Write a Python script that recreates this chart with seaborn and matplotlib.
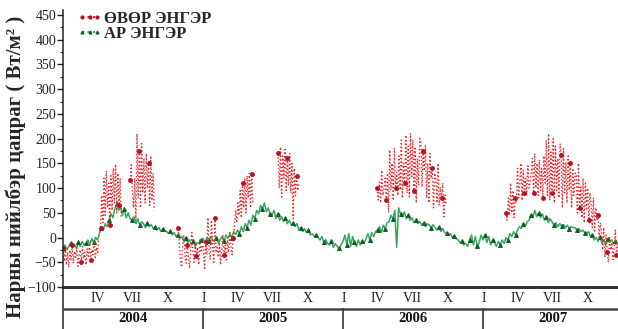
import numpy as np
import pandas as pd
import matplotlib
matplotlib.use("Agg")
import matplotlib.pyplot as plt
import matplotlib.dates as mdates
from matplotlib.lines import Line2D
from matplotlib.ticker import MultipleLocator
import seaborn as sns

# ---------------- data ----------------
series_names = ["ӨВӨР ЭНГЭР", "АР ЭНГЭР"]
years = ["2004", "2005", "2006", "2007"]
month_labels = ["IV", "VII", "X", "I"]

# north slope (АР ЭНГЭР), 5-day values from 2004-01-01
green_2004 = [-22, -15, -25, -18, -12, -20, -14, -22, -10, -18, -8, -15,
              -12, -5, -15, -2, -10, 0, -5, 8, 20, 15, 28, 22,
              35, 48, 40, 58, 68, 55, 62, 45, 58, 40, 50, 38,
              35, 42, 28, 38, 25, 32, 28, 20, 30, 22, 26, 18,
              22, 15, 20, 12, 18, 14, 12, 8, 14, 5, 10, 2,
              5, -2, 2, -8, 0, -10, -5, -15, -8, -18, -10, -12, -5]
green_2005 = [-2, -10, 0, -8, 2, -5, -8, 0, -12, -4, 2, -6,
              5, -2, 8, 0, 12, 6, 15, 8, 22, 12, 28, 20,
              35, 25, 45, 38, 55, 48, 65, 58, 70, 52, 60, 48,
              45, 55, 38, 48, 35, 42, 32, 40, 28, 35, 25, 30,
              22, 28, 15, 20, 12, 18, 10, 15, 5, 8, 2, 6,
              0, -5, 2, -10, -4, -12, -15, -8, -20, -12, -18, -22, -15]
green_2006 = [-8, 5, -15, 8, -18, 2, -10, -18, -5, -15, -8, -12,
              -2, 8, -5, 10, 2, 12, 15, 22, 10, 25, 18, 30,
              32, 45, 38, 55, -20, 60, 48, 42, 52, 38, 45, 35,
              40, 30, 35, 28, 32, 25, 30, 22, 28, 25, 20, 26,
              20, 15, 22, 12, 18, 10, 10, 5, 8, 0, 4, -2,
              -5, -10, -8, -15, -12, -18, -5, 5, -15, 2, -18, -10, 5]
green_2007 = [-5, 5, -10, 2, -15, -5, -10, -18, -8, -15, -5, -12,
              0, -5, 8, 2, 12, 5, 15, 22, 18, 28, 22, 32,
              35, 45, 40, 55, 42, 50, 40, 48, 35, 42, 30, 38,
              32, 25, 30, 22, 28, 24, 26, 20, 25, 18, 22, 20,
              20, 15, 18, 12, 15, 10, 8, 12, 2, 6, -5, 0,
              -8, 2, -12, -5, -15, -2, -10, -5, -12, -8]
green_values = green_2004 + green_2005 + green_2006 + green_2007
green_start = "2004-01-01"

# south slope (ӨВӨР ЭНГЭР), 3-day values in measured periods
red_starts = ["2004-01-01", "2004-04-08", "2004-06-24", "2004-10-27",
              "2005-07-15", "2006-03-30", "2007-03-01"]
red_seg1 = [-22, -48, -18, -55, -30, -60, -25, -45, -15, -52, -28, -40, -20, -58,
            -35, -25, -50, -18, -42, -30, -55, -22, -38, -12, -45, -25, -35, -8,
            -40, -20, -30, -5]
red_seg2 = [20, 85, 30, 120, 45, 135, 60, 110, 25, 125, 55, 140, 70, 148, 50, 130,
            65, 120, 40]
red_seg3 = [116, 147, 95, 60, 120, 35, 210, 80, 175, 60, 190, 90, 160, 70, 170, 100,
            150, 65, 165, 75, 130, 55]
red_seg4 = [19, -10, -45, -60, -20, 5, -35, -52, -15, -40, -62, -25, 10, -30, -50,
            -10, -38, -20, -55, -5, -30, -15,
            -20, -62, -10, -35, 40, -25, -45, 35, -15, -50, 40, -30, -20, -40, -10,
            -55, -25, 5, -35, -15, -45, -5, -30, 10, -20, -35, 0,
            20, 55, 30, 70, 45, 95, 40, 110, 60, 120, 50, 125, 80, 130, 60, 128, 70]
red_seg5 = [170, 100, 183, 82, 165, 120, 178, 95, 160, 105, 170, 90, 150, 38, 140,
            85, 125, 95, 110]
red_seg6 = [100, 76, 112, 70, 136, 85, 100, 120, 75, 130, 50, 177,
            96, 150, 75, 181, 100, 132, 85, 165, 96, 197, 80, 150, 110,
            207, 90, 185, 82, 211, 120, 197, 95, 180, 70, 160, 105, 200,
            197, 102, 175, 135, 185, 80, 150, 70, 170, 120, 140, 60, 130,
            120, 70, 150, 65, 102, 80, 110, 42, 86, 64]
red_seg7 = [50, 35, 80, 45, 110, 50, 95, 40, 80,
            70, 140, 80, 112, 150, 75, 136, 90, 120, 85, 145, 100, 112,
            132, 160, 90, 170, 100, 150, 85, 157, 95, 140, 80, 165, 110,
            197, 85, 210, 75, 173, 90, 200, 70, 185, 95, 160, 80, 190,
            167, 60, 180, 90, 152, 70, 165, 96, 150, 60, 140, 85, 130,
            130, 50, 150, 60, 102, 40, 120, 30, 110, 55, 100, 35, 90,
            66, 20, 80, 10, 60, 35, 45, 0, 30,
            10, -25, 20, -40, 5, -30, -50, 0, -25, -10, -45, -20, 15, -35, -10, -25]
red_segments = [red_seg1, red_seg2, red_seg3, red_seg4, red_seg5, red_seg6, red_seg7]

# ---------------- style ----------------
sns.set_theme(style="ticks")
plt.rcParams["font.family"] = ["Liberation Serif", "DejaVu Serif"]

W, H = 618, 329
fig = plt.figure(figsize=(W / 100, H / 100), dpi=100)
x0, x1 = 63, 618
y_bot, y_top = 287, 10
ax = fig.add_axes([x0 / W, 1 - y_bot / H, (x1 - x0) / W, (y_bot - y_top) / H])

red_col = "#e8262b"
red_mark = "#b8101e"
green_col = "#35a85a"
green_mark = "#145a2a"

gdf = pd.DataFrame({"date": pd.date_range(green_start, periods=len(green_values), freq="5D"),
                    "val": green_values})
sns.lineplot(data=gdf, x="date", y="val", ax=ax, color=green_col, linewidth=1.1,
             marker="^", markersize=2.8, markevery=4, markerfacecolor=green_mark,
             markeredgecolor=green_mark, estimator=None, sort=False, legend=False)

for start, seg in zip(red_starts, red_segments):
    rdf = pd.DataFrame({"date": pd.date_range(start, periods=len(seg), freq="3D"), "val": seg})
    sns.lineplot(data=rdf, x="date", y="val", ax=ax, color=red_col, linewidth=1.0,
                 linestyle=":", marker="o", markersize=2.7, markevery=8,
                 markerfacecolor=red_mark, markeredgecolor=red_mark,
                 estimator=None, sort=False, legend=False)

xmin = pd.Timestamp("2004-01-01")
xmax = pd.Timestamp("2007-12-18")
ax.set_xlim(xmin, xmax)
ax.set_ylim(-100, 460)
ax.yaxis.set_major_locator(MultipleLocator(50))
ax.yaxis.set_minor_locator(MultipleLocator(25))
ax.tick_params(axis="y", which="major", direction="out", length=4, width=1,
               labelsize=10, pad=1, colors="#222222")
ax.tick_params(axis="y", which="minor", direction="out", length=2, width=0.8)
ax.set_xticks([])
ax.set_xlabel("")
ax.set_ylabel("")
for s in ["top", "right"]:
    ax.spines[s].set_visible(False)
ax.spines["bottom"].set_linewidth(2.2)
ax.spines["bottom"].set_color("#333333")
ax.spines["left"].set_linewidth(1.1)
ax.spines["left"].set_color("#222222")

# legend
handles = [Line2D([], [], color=red_col, linestyle=":", marker="o", markersize=2,
                  markerfacecolor=red_mark, markeredgecolor=red_mark),
           Line2D([], [], color=green_col, linestyle=":", marker="^", markersize=2,
                  markerfacecolor=green_mark, markeredgecolor=green_mark)]
leg = ax.legend(handles, series_names, loc="upper left", frameon=False,
                bbox_to_anchor=(77 / W, 1 - 11 / H), bbox_transform=fig.transFigure,
                numpoints=3, handlelength=1.5, handletextpad=0.15, labelspacing=-0.05,
                borderaxespad=0, borderpad=0,
                prop={"family": ["Liberation Serif", "DejaVu Serif"], "weight": "bold", "size": 12})

# y label
fig.text(16 / W, 1 - 167 / H, "Нарны нийлбэр цацраг ( Вт/м² )", rotation=90, ha="center",
         va="center", fontsize=15, fontweight="bold")

# bottom table
tab = fig.add_axes([x0 / W, 0, (x1 - x0) / W, (H - y_bot) / H])
tab.set_xlim(mdates.date2num(xmin), mdates.date2num(xmax))
tab.set_ylim(0, H - y_bot)
tab.axis("off")
tab.plot([mdates.date2num(xmin)] * 2, [0, H - y_bot], color="#222222", lw=1.1, clip_on=False)
mid = H - 309
tab.axhline(mid, color="#444444", lw=1.8)
month_num = {"IV": 4, "VII": 7, "X": 10, "I": 1}
for yi, yr in enumerate(years):
    y = int(yr)
    for lab in month_labels:
        m = month_num[lab]
        yy = y + 1 if lab == "I" else y
        d = mdates.date2num(pd.Timestamp(yy, m, 1))
        if d < mdates.date2num(xmax):
            tab.text(d, (H - y_bot + mid) / 2, lab, ha="center", va="center", fontsize=10,
                     color="#222222")
    cen = mdates.date2num(pd.Timestamp(y, 7, 1))
    tab.text(cen, mid / 2, yr, ha="center", va="center", fontsize=10.5, fontweight="bold",
             color="#111111")
    if yi > 0:
        d = mdates.date2num(pd.Timestamp(y, 1, 1))
        tab.plot([d, d], [0, mid], color="#333333", lw=1.2)

fig.savefig("out.png", dpi=100)
